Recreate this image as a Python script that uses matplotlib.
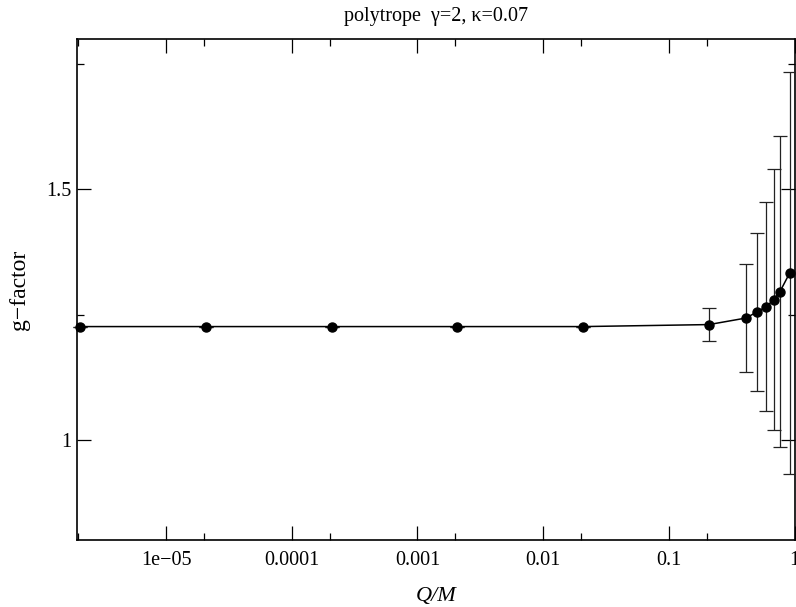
import matplotlib
matplotlib.use("Agg")
import matplotlib.pyplot as plt
from matplotlib.ticker import FixedLocator, NullFormatter

# Data
q_over_m = [2.08e-6, 2.08e-5, 2.08e-4, 2.08e-3, 2.08e-2, 0.208, 0.408, 0.5, 0.596, 0.681, 0.764, 0.912]
g_factor = [1.226, 1.226, 1.226, 1.226, 1.226, 1.230, 1.243, 1.255, 1.266, 1.280, 1.296, 1.333]
g_err = [0.0, 0.0, 0.0, 0.0, 0.0, 0.033, 0.107, 0.157, 0.209, 0.260, 0.310, 0.402]

x_major = [1e-5, 1e-4, 1e-3, 1e-2, 1e-1, 1.0]
x_major_labels = ["1e\u221205", "0.0001", "0.001", "0.01", "0.1", "1"]
x_minor = [2e-6, 2e-5, 2e-4, 2e-3, 2e-2, 2e-1]
y_major = [1.0, 1.5]
y_major_labels = ["1", "1.5"]
y_minor = [1.25, 1.75]

plt.rcParams['font.family'] = ['Liberation Serif', 'DejaVu Serif']

fig = plt.figure(figsize=(7.96, 6.07), dpi=100)
ax = fig.add_axes([0.0971, 0.1104, 0.9013, 0.8253])

ax.errorbar(q_over_m, g_factor, yerr=g_err, fmt='-o', color='black',
            ecolor='#222222', elinewidth=0.9, capsize=5, capthick=0.9,
            markersize=6.5, linewidth=1.1, clip_on=False, zorder=3)

ax.set_xscale('log')
ax.set_xlim(1.97e-6, 1.0)
ax.set_ylim(0.8, 1.8)

ax.xaxis.set_major_locator(FixedLocator(x_major))
ax.set_xticklabels(x_major_labels)
ax.xaxis.set_minor_locator(FixedLocator(x_minor))
ax.xaxis.set_minor_formatter(NullFormatter())
ax.yaxis.set_major_locator(FixedLocator(y_major))
ax.set_yticklabels(y_major_labels)
ax.yaxis.set_minor_locator(FixedLocator(y_minor))
ax.yaxis.set_minor_formatter(NullFormatter())

ax.tick_params(which='both', direction='in', top=True, right=True, labelsize=14.5, width=0.9)
ax.tick_params(which='major', length=10)
ax.tick_params(which='minor', length=5)
ax.tick_params(axis='x', which='major', pad=8)
ax.tick_params(axis='y', which='major', pad=4)

for s in ax.spines.values():
    s.set_linewidth(1.2)

ax.set_xlabel("Q/M", fontsize=16, style='italic', labelpad=12)
ax.set_ylabel("g\u2212factor", fontsize=17, labelpad=12)
ax.set_title("polytrope  \u03b3=2, \u03ba=0.07", fontsize=14.5, pad=13)

fig.savefig("out.png", dpi=100)
